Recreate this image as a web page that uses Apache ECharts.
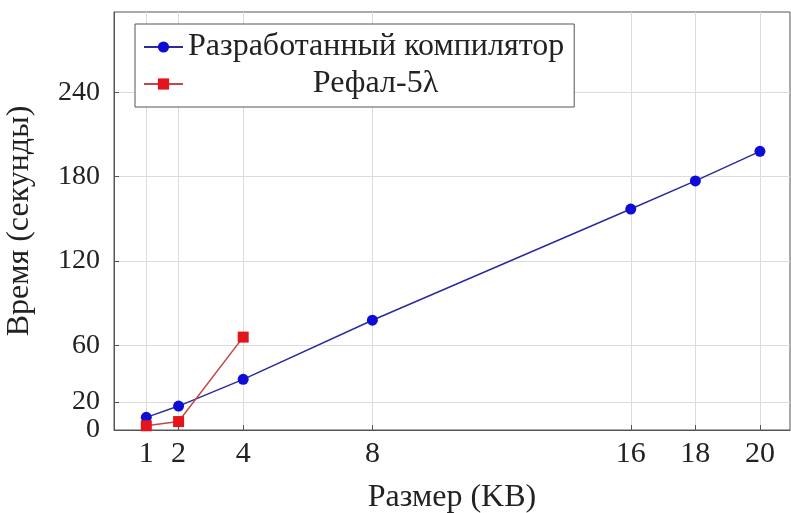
<!DOCTYPE html>
<html>
<head>
<meta charset="utf-8">
<script src="https://cdn.jsdelivr.net/npm/echarts@6/dist/echarts.min.js"></script>
<style>html,body{margin:0;padding:0;background:#fff}#c{width:791px;height:513px}</style>
</head>
<body>
<div id="c"></div>
<script>
const sizes = [1, 2, 4, 8, 16, 18, 20];
const compilerTimes = [9, 17, 36, 78, 157, 177, 198];
const refalSizes = [1, 2, 4];
const refalTimes = [3, 6, 66];
const xTicks = [1, 2, 4, 8, 16, 18, 20];
const yTicks = [0, 20, 60, 120, 180, 240];
const seriesNames = ['Разработанный компилятор', 'Рефал-5λ'];

const FONT = '"Liberation Serif", "DejaVu Serif", serif';
const chart = echarts.init(document.getElementById('c'), null, {renderer: 'canvas'});
chart.setOption({
  animation: false,
  backgroundColor: '#fff',
  grid: {left: 114, top: 12, right: 1, bottom: 83, show: true, borderColor: '#555', borderWidth: 1,
         containLabel: false, outerBoundsMode: 'none'},
  xAxis: {
    type: 'value', min: 0, max: 20.93,
    name: 'Размер (KB)', nameLocation: 'middle', nameGap: 52,
    nameTextStyle: {fontFamily: FONT, fontSize: 32, color: '#222'},
    axisLine: {show: true, lineStyle: {color: '#555'}},
    axisTick: {show: true, inside: true, length: 5, customValues: xTicks, lineStyle: {color: '#555'}},
    axisLabel: {customValues: xTicks, hideOverlap: false, fontFamily: FONT, fontSize: 30, color: '#222', margin: 9},
    splitLine: {show: true, lineStyle: {color: '#dcdcdc', width: 1}}
  },
  yAxis: {
    type: 'value', min: 0, max: 297,
    name: 'Время (секунды)', nameLocation: 'middle', nameGap: 78,
    nameTextStyle: {fontFamily: FONT, fontSize: 32, color: '#222'},
    axisLine: {show: true, lineStyle: {color: '#555'}},
    axisTick: {show: true, inside: true, length: 5, customValues: yTicks, lineStyle: {color: '#555'}},
    axisLabel: {customValues: yTicks, hideOverlap: false, showMinLabel: true, fontFamily: FONT, fontSize: 28, color: '#222', margin: 14},
    splitLine: {show: true, lineStyle: {color: '#dcdcdc', width: 1}}
  },
  legend: {
    orient: 'vertical', left: 135, top: 24,
    padding: [7, 10, 7, 8], itemGap: 5,
    itemWidth: 39, itemHeight: 14,
    borderColor: '#555', borderWidth: 1, backgroundColor: '#fff',
    data: seriesNames,
    formatter: function (n) { return n === seriesNames[1] ? '{c|' + n + '}' : '{a|' + n + '}'; },
    textStyle: {
      fontFamily: FONT, fontSize: 32, color: '#222',
      rich: {
        a: {fontFamily: FONT, fontSize: 32, color: '#222'},
        c: {fontFamily: FONT, fontSize: 32, color: '#222', width: 375, align: 'center'}
      }
    }
  },
  series: [
    {
      name: seriesNames[0], type: 'line',
      data: sizes.map((s, i) => [s, compilerTimes[i]]),
      symbol: 'circle', symbolSize: 11,
      lineStyle: {color: '#2b2b9e', width: 1.5},
      itemStyle: {color: '#0d0dd6'}
    },
    {
      name: seriesNames[1], type: 'line',
      data: refalSizes.map((s, i) => [s, refalTimes[i]]),
      symbol: 'rect', symbolSize: 11,
      lineStyle: {color: '#c24848', width: 1.5},
      itemStyle: {color: '#e3141c'}
    }
  ]
});
</script>
</body>
</html>
